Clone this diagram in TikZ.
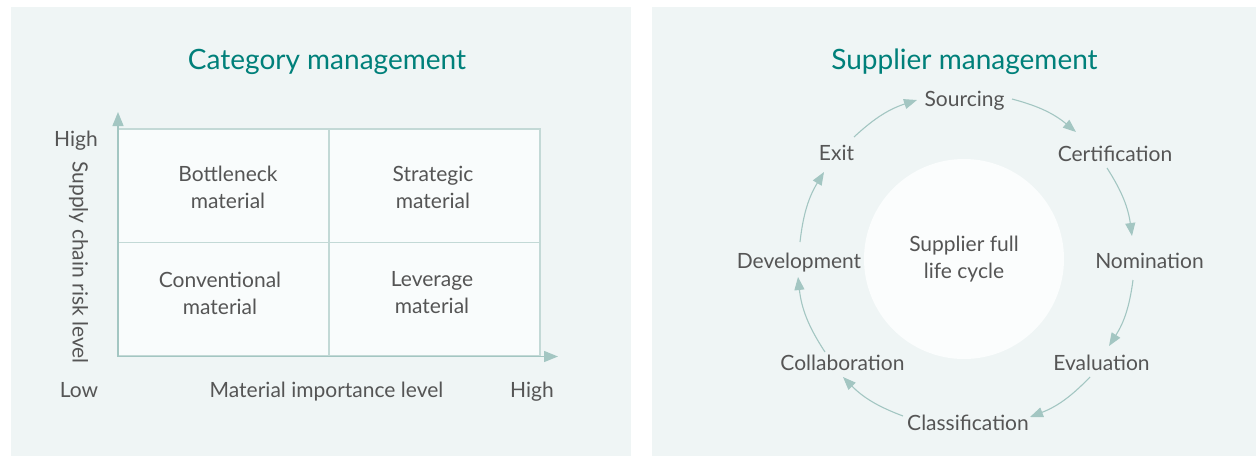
\documentclass[tikz,border=0pt]{standalone}
\usepackage{fontspec}
\setmainfont{Lato}
\usetikzlibrary{arrows.meta, positioning}

\definecolor{panelbg}{HTML}{EFF5F5}
\definecolor{cellfill}{HTML}{F9FCFC}
\definecolor{gridc}{HTML}{C3D9D6}
\definecolor{arrowc}{HTML}{A3C6C2}
\definecolor{textc}{HTML}{555555}
\definecolor{titlec}{HTML}{00807A}
\definecolor{corefill}{HTML}{FBFDFD}

\begin{document}
\begin{tikzpicture}[
    x=1pt, y=-1pt,
    font=\fontsize{21}{27}\selectfont,
    text=textc,
    title/.style={text=titlec, font=\fontsize{28}{34}\selectfont,
        inner sep=0pt, text height=20pt, text depth=0pt},
    lbl/.style={inner sep=0pt, text height=15pt, text depth=0pt},
    celltext/.style={inner sep=0pt, align=center},
    cell/.style={draw=gridc, fill=cellfill, line width=1.2pt,
        minimum width=211pt, minimum height=113.5pt,
        inner sep=0pt, outer sep=0pt},
    axis/.style={draw=arrowc, line width=1.4pt,
        -{Triangle[length=14pt, width=11pt]}},
    cyc/.style={color=arrowc, line width=1.1pt,
        -{Triangle[length=13pt, width=10pt]}},
    core/.style={circle, fill=corefill, minimum size=200pt,
        inner sep=0pt, align=center}
]

\useasboundingbox (0,0) rectangle (1256,456);
\fill[white] (0,0) rectangle (1256,456);
\fill[panelbg] (11,7) rectangle (631,456);
\fill[panelbg] (652,7) rectangle (1256,456);

% category management
\node[title] (cattitle) at (327,59) {Category management};

\node[cell] (tl) at (223.5,185.75) {};
\node[cell, right=0pt of tl] (tr) {};
\node[cell, below=0pt of tl] (bl) {};
\node[cell, right=0pt of bl] (br) {};

\coordinate (o) at (118,356.5);
\coordinate (ytip) at (118,112);
\coordinate (xtip) at (558,356.5);
\draw[axis] (o) -- (ytip);
\draw[axis] (o) -- (xtip);

\node[celltext] (bottleneck) at (228,187) {Bottleneck\\material};
\node[celltext] (strategic) at (433,187) {Strategic\\material};
\node[celltext] (conventional) at (220,293) {Conventional\\material};
\node[celltext] (leverage) at (432,293) {Leverage\\material};

\node[lbl] (yhigh) at (76,138.7) {High};
\node[lbl] (low) at (79,390) {Low};
\node[lbl] (xhigh) at (532,390) {High};
\node[lbl] (xname) at (326.5,390) {Material importance level};
\node[lbl, rotate=-90] (yname) at (80,262.5) {Supply chain risk level};

% supplier management
\node[title] (suptitle) at (964.5,59) {Supplier management};

\node[core] (core) at (964,259) {Supplier full\\life cycle};

\node[lbl] (src) at (964.5,99) {Sourcing};
\node[lbl] (cert) at (1115,153.5) {Certification};
\node[lbl] (nom) at (1149.5,260.5) {Nomination};
\node[lbl] (eval) at (1101.5,362.5) {Evaluation};
\node[lbl] (cls) at (968,423) {Classification};
\node[lbl] (colab) at (842.5,362.5) {Collaboration};
\node[lbl] (dev) at (799,261) {Development};
\node[lbl] (exit) at (836.5,153) {Exit};

\path[cyc]
    ([shift={(17.5,-16)}]exit.center) edge [bend left=12.5] ([shift={(-47.5,1)}]src.center)
    ([shift={(47.5,0)}]src.center) edge [bend left=12.5] ([shift={(-39,-21.5)}]cert.center)
    ([shift={(-8,14.5)}]cert.center) edge [bend left=12.5] ([shift={(-17.5,-24.5)}]nom.center)
    ([shift={(-16.5,19.5)}]nom.center) edge [bend left=12.5] ([shift={(7.5,-16.5)}]eval.center)
    ([shift={(-11.5,14.5)}]eval.center) edge [bend left=12.5] ([shift={(62,-6)}]cls.center)
    ([shift={(-65,-7)}]cls.center) edge [bend left=12.5] ([shift={(0.5,14.5)}]colab.center)
    ([shift={(-17.5,-10.5)}]colab.center) edge [bend left=13.5] ([shift={(-1,16)}]dev.center)
    ([shift={(1,-19)}]dev.center) edge [bend left=12.5] ([shift={(-12.5,19)}]exit.center)
    ;

\end{tikzpicture}
\end{document}
